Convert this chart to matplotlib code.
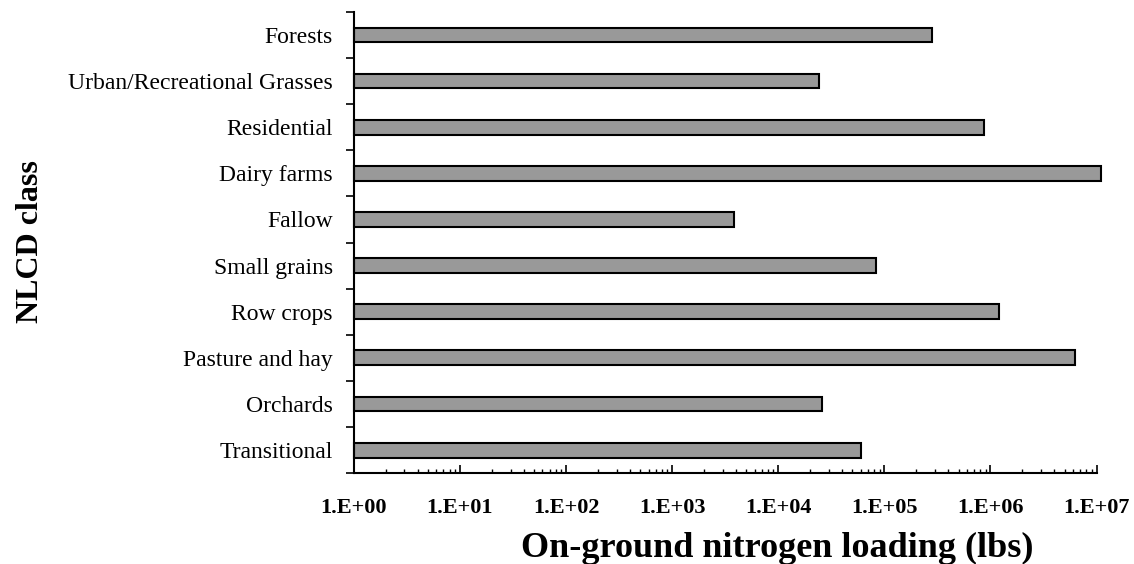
import numpy as np
import matplotlib
matplotlib.use("Agg")
import matplotlib.pyplot as plt
from matplotlib.ticker import FixedLocator, LogLocator, NullFormatter

# Data (top to bottom)
classes = [
    "Forests", "Urban/Recreational Grasses", "Residential", "Dairy farms",
    "Fallow", "Small grains", "Row crops", "Pasture and hay", "Orchards",
    "Transitional",
]
loading = [2.8e5, 2.4e4, 8.7e5, 1.1e7, 3.8e3, 8.3e4, 1.2e6, 6.3e6, 2.6e4, 6.0e4]
decades = [1e0, 1e1, 1e2, 1e3, 1e4, 1e5, 1e6, 1e7]
decade_labels = ["1.E+00", "1.E+01", "1.E+02", "1.E+03",
                 "1.E+04", "1.E+05", "1.E+06", "1.E+07"]

plt.rcParams["font.family"] = ["Liberation Serif", "DejaVu Serif"]

fig = plt.figure(figsize=(11.34, 5.64), dpi=100)
ax = fig.add_axes([0.312, 0.161, 0.655, 0.818])

ypos = np.arange(len(classes))[::-1]
bars = ax.barh(ypos, loading, height=0.32, left=1.0, color="#999999",
               edgecolor="black", linewidth=1.5)
for b in bars:
    b.set_clip_on(False)

ax.set_xscale("log")
ax.set_xlim(1, 1e7)
ax.set_ylim(-0.5, len(classes) - 0.5)

# x ticks
ax.xaxis.set_major_locator(FixedLocator(decades))
ax.set_xticklabels(decade_labels, fontsize=16, fontweight="bold")
ax.xaxis.set_minor_locator(LogLocator(base=10, subs=np.arange(2, 10), numticks=20))
ax.xaxis.set_minor_formatter(NullFormatter())
ax.tick_params(axis="x", which="major", direction="in", length=6, width=1.2, pad=18)
ax.tick_params(axis="x", which="minor", direction="in", length=3, width=1.0)

# y ticks: labels at centres, tick marks at boundaries
ax.set_yticks(ypos)
ax.set_yticklabels(classes, fontsize=17)
ax.tick_params(axis="y", which="major", length=0, pad=15)
ax.set_yticks(np.arange(-0.5, len(classes)), minor=True)
ax.tick_params(axis="y", which="minor", direction="out", length=6, width=1.2)

for side in ["top", "right"]:
    ax.spines[side].set_visible(False)
for side in ["left", "bottom"]:
    ax.spines[side].set_linewidth(1.5)

fig.text(0.685, 0.0124, "On-ground nitrogen loading (lbs)", fontsize=26,
         fontweight="bold", ha="center", va="baseline")
fig.text(0.027, 0.571, "NLCD class", rotation=90, fontsize=23,
         fontweight="bold", ha="center", va="center")

fig.savefig("out.png", dpi=100, facecolor="white")
